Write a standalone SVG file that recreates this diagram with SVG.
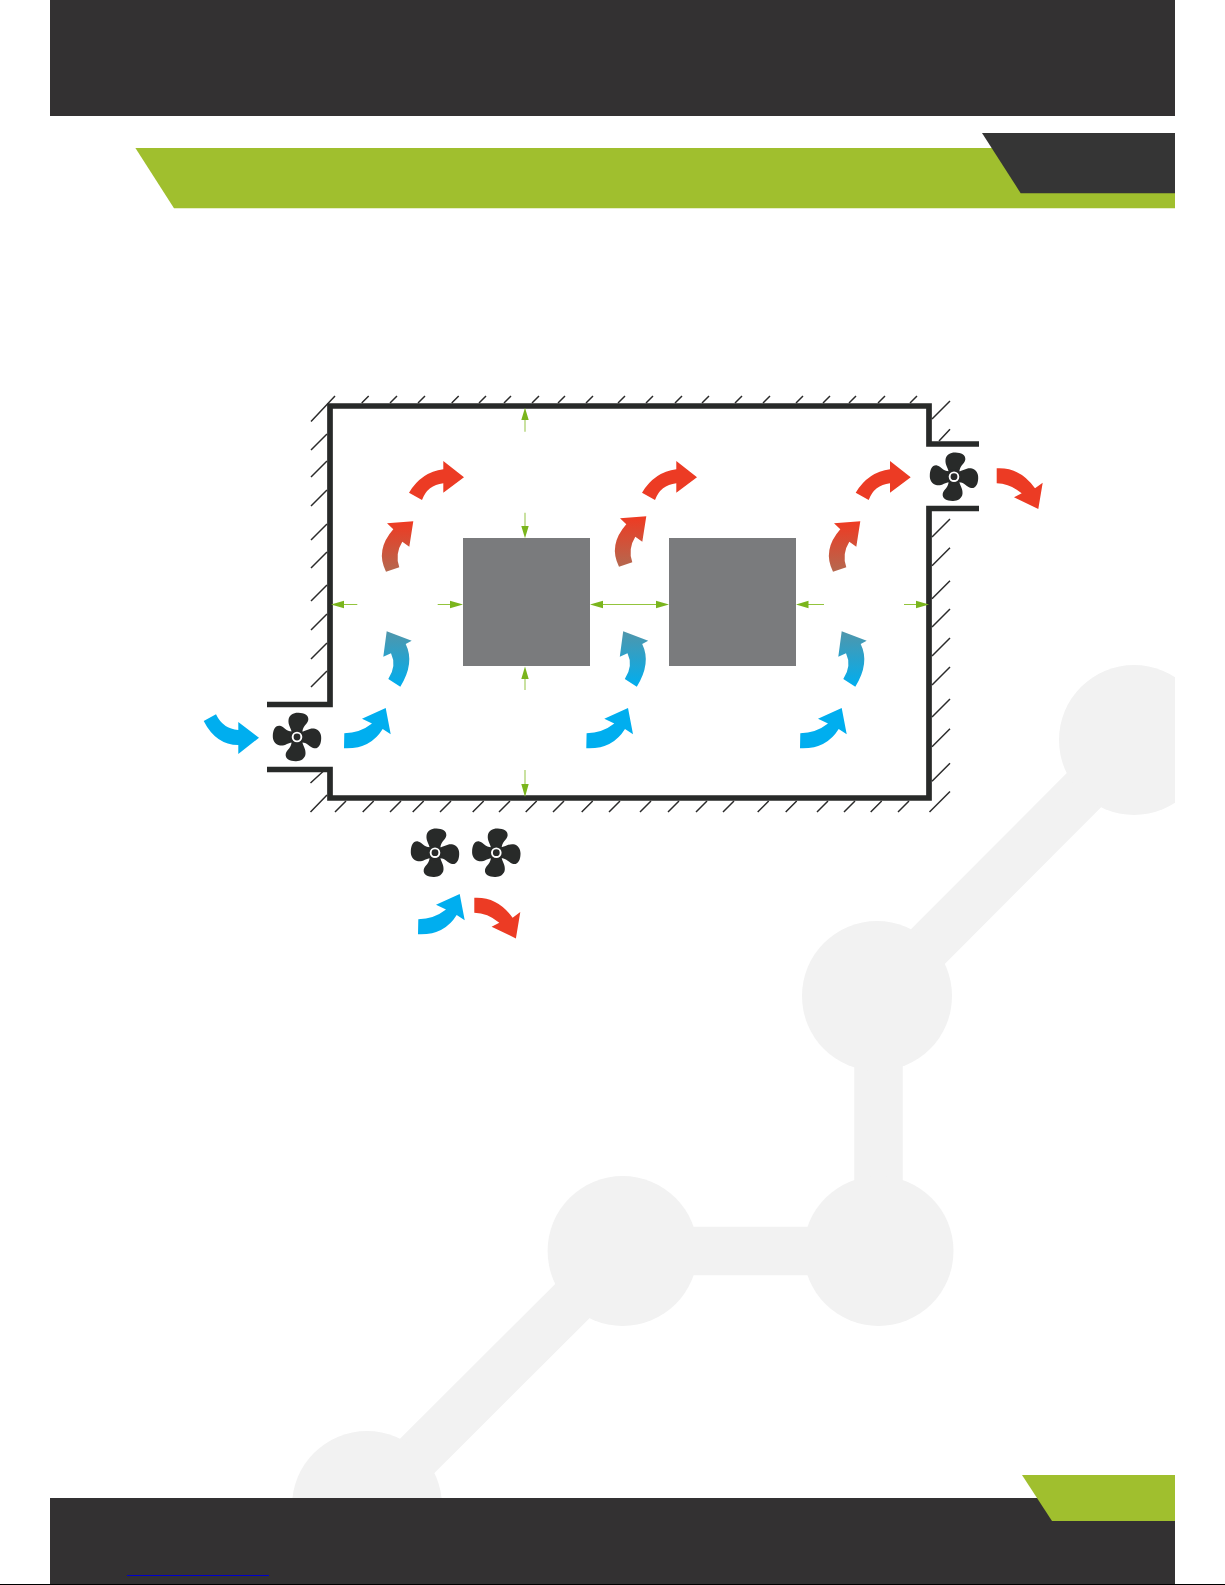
<svg xmlns="http://www.w3.org/2000/svg" xmlns:xlink="http://www.w3.org/1999/xlink" width="1225" height="1585" viewBox="0 0 1225 1585">
<style>
.dark{fill:#333132}
.tab{fill:#353535}
.lime{fill:#a0bf2e}
.wm{fill:#f2f2f2}
.wml{stroke:#f2f2f2;stroke-width:48.5;fill:none}
.wall{fill:none;stroke:#282a29;stroke-width:5.7;stroke-linejoin:miter}
.hatch{fill:none;stroke:#2b2b2b;stroke-width:1.5}
.box{fill:#7a7b7d}
.dimv{stroke:#a6cd63;stroke-width:1.2;fill:none}
.dimh{stroke:#93c43d;stroke-width:1.1;fill:none}
.head{fill:#7ab51d}
.red{fill:#ec3b24}
.blue{fill:#00aeef}
.fanc{fill:#282a29}
</style>
<defs>
<linearGradient id="gTeal" x1="0" y1="1" x2="0" y2="0"><stop offset="0" stop-color="#00aeef"/><stop offset="1" stop-color="#5096ab"/></linearGradient>
<linearGradient id="gRust" x1="0" y1="1" x2="0" y2="0"><stop offset="0" stop-color="#b5684f"/><stop offset="1" stop-color="#ef3a22"/></linearGradient>
<path id="bladeShape" d="M-5,-4 C-6,-9 -9,-12 -8.5,-17 C-8,-22 -3,-24.5 1.5,-24.2 C7,-24 12,-22 11.3,-17 C10.5,-12.5 5,-11 5.5,-4 Z"/>
<g id="fan">
<use href="#bladeShape" class="fanc"/>
<use href="#bladeShape" class="fanc" transform="rotate(90)"/>
<use href="#bladeShape" class="fanc" transform="rotate(180)"/>
<use href="#bladeShape" class="fanc" transform="rotate(270)"/>
<circle r="7.5" class="fanc"/>
<circle r="5.3" fill="#fff"/>
<circle r="3.4" class="fanc"/>
</g>
<path id="aRightUp" d="M344.3,733.3 Q360,733 372,723.5 L362,718.7 L385.7,708 L390.7,734.3 L382.7,729 Q370,749.5 344,748.3 Z"/>
<path id="aUpTeal" fill="url(#gTeal)" d="M388.3,679 Q397,666 391,653.3 L383.3,656.7 L386.7,631.3 L411.7,640.7 L405.7,644 Q415,663 400.3,686.7 Z"/>
<path id="aUpRust" fill="url(#gRust)" d="M386,571.7 Q375,550 393.3,529.3 L387,523.3 L413.3,521.3 L409.3,546.7 L402.3,541.7 Q394.6,554 399.3,567.3 Z"/>
<path id="aArc" d="M409,492.7 Q421.5,472 443.3,469.3 L443.3,461 L464,477.3 L443.3,492.7 L443.3,483.3 Q427.5,485 422,500 Z"/>
<path id="aDown" d="M996.7,468.3 Q1020,467 1035,488.3 L1042.7,482.7 L1038.3,509 L1014,497.3 L1021.7,493.3 Q1010,483.5 996.7,483.3 Z"/>
<clipPath id="page"><rect x="50" y="0" width="1125" height="1585"/></clipPath>
</defs>
<rect width="1225" height="1585" fill="#fff"/>
<g id="watermark" clip-path="url(#page)">
<path class="wml" d="M1134,740 L878.5,996 L878.5,1251 L622.6,1251 L367,1506"/>
<circle class="wm" cx="1134" cy="740" r="75"/>
<circle class="wm" cx="877" cy="996" r="75"/>
<circle class="wm" cx="878.5" cy="1251" r="75"/>
<circle class="wm" cx="622.6" cy="1251" r="75"/>
<circle class="wm" cx="367" cy="1506" r="75"/>
</g>
<g id="header">
<rect class="dark" x="50" y="0" width="1125" height="116"/>
<polygon class="lime" points="135.4,148 1175,148 1175,208.3 174,208.3"/>
<polygon class="tab" points="982,133 1175,133 1175,193.3 1020.7,193.3"/>
</g>
<g id="footer">
<rect class="dark" x="50" y="1498" width="1125" height="87"/>
<polygon class="lime" points="1022,1475 1175,1475 1175,1521 1052,1521"/>
<rect x="127" y="1575" width="142" height="1" fill="#0000cc"/>
<rect x="0" y="1584" width="1225" height="1" fill="#000"/>
</g>
<g id="room">
<path class="hatch" d="M368.7,396l-7,7M397,396l-7,7M425,396l-7,7M458.7,396l-7,7M486,396l-7,7M511,396l-7,7M539,396l-7,7M565,396l-7,7M593,396l-7,7M625,396l-7,7M653,396l-7,7M682,396l-7,7M709,396l-7,7M742,396l-7,7M770,396l-7,7M803,396l-7,7M830,396l-7,7M856,396l-7,7M885,396l-7,7M917,396l-7,7
M311,421.5L335,396M311,450l16,-16M311,477l16,-16M311,506l16,-16M311,540l16,-16M311,568l16,-16M311,601l16,-16M311,630l16,-16M311,659l16,-16M311,687l16,-16M310.5,783L323,771.5M310.5,812L327,795
M335,812l11,-11M362.7,812l11,-11M390,812l11,-11M412.7,812l11,-11M440,812l11,-11M472.7,812l11,-11M499,812l11,-11M525.7,812l11,-11M553,812l11,-11M581.7,812l11,-11M609,812l11,-11M640,812l11,-11M668,812l11,-11M696,812l11,-11M723,812l11,-11M757.7,812l11,-11M785.7,812l11,-11M817,812l11,-11M844,812l11,-11M870.7,812l11,-11M898,812l11,-11M929.5,812L950,791.5
M932,419l18,-18M939,441L950,429.3M932,537l18,-18M932,565.7l18,-18M932,598.7l18,-18M932,627l18,-18M932,656l18,-18M932,685l18,-18M932,717l18,-18M932,746.7l18,-18M932,781.3l18,-18"/>
<path class="wall" d="M267,704.5H330V406H929V444H979"/>
<path class="wall" d="M979,508.5H929V798H330V769.5H267"/>
</g>
<g id="box-1"><rect class="box" x="463" y="538" width="127" height="128"/></g>
<g id="box-2"><rect class="box" x="669" y="538" width="127" height="128"/></g>
<g id="fan-inlet"><use href="#fan" x="297" y="737"/></g>
<g id="fan-outlet"><use href="#fan" x="954" y="476.7"/></g>
<g id="fan-legend-1"><use href="#fan" x="435" y="852.7"/></g>
<g id="fan-legend-2"><use href="#fan" x="496.3" y="852.7"/></g>
<g id="connectors">
<g id="clearances">
<path class="dimv" d="M525,420V431.7M525,512.7V527M525,679V690M525,770V784"/>
<path class="dimh" d="M344,604.5H357.3M437.7,604.5H450M600,604.5H660M808,604.5H824M904,604.5H916"/>
<path class="head" d="M525,407.7l3.7,12.3h-7.4zM525,538.3l-3.7,-12.3h7.4zM525,666.5l3.7,12.5h-7.4zM525,797l-3.7,-13h7.4z
M331,604.5l13,-3.7v7.4zM463,604.5l-13,-3.7v7.4zM590,604.5l13,-3.7v7.4zM669,604.5l-13,-3.7v7.4zM796,604.5l12.5,-3.7v7.4zM929,604.5l-13,-3.7v7.4z"/>
</g>
<g id="airflow">
<path class="blue" d="M203.7,721 Q216,745 238.3,745 L238.3,754 L259,737.7 L238.3,722 L238.3,730 Q223,729 216,714.3 Z"/>
<use href="#aRightUp" class="blue"/>
<use href="#aRightUp" class="blue" x="242.3"/>
<use href="#aRightUp" class="blue" x="456"/>
<use href="#aUpTeal"/>
<use href="#aUpTeal" x="236.5"/>
<use href="#aUpTeal" x="455"/>
<use href="#aUpRust"/>
<use href="#aUpRust" x="233" y="-5"/>
<use href="#aUpRust" x="447"/>
<use href="#aArc" class="red"/>
<use href="#aArc" class="red" x="233"/>
<use href="#aArc" class="red" x="446.7"/>
<use href="#aDown" class="red"/>
<use href="#aRightUp" class="blue" x="74" y="186"/>
<use href="#aDown" class="red" x="-522.4" y="429.4"/>
</g>
</g>
</svg>
